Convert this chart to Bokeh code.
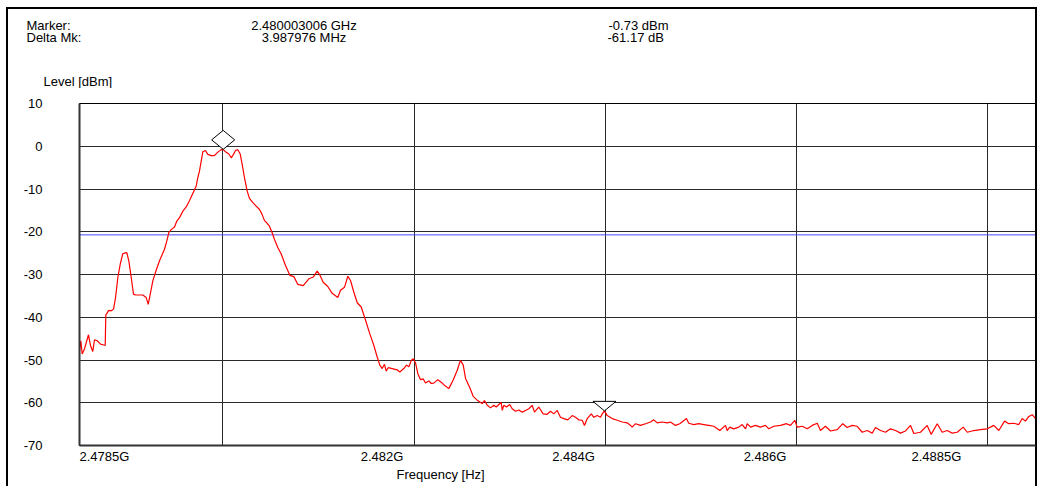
from bokeh.plotting import figure
from bokeh.layouts import column
from bokeh.models import FixedTicker, Span, Title
from bokeh.core.properties import value
from bokeh.embed import file_html
from bokeh.resources import INLINE

# ---------------- data ----------------
freq_mhz = [
    2478.500, 2478.514, 2478.528, 2478.552, 2478.594, 2478.615, 2478.639, 2478.657, 2478.685, 2478.720,
    2478.754, 2478.769, 2478.775, 2478.806, 2478.832, 2478.856, 2478.877, 2478.901, 2478.926, 2478.953,
    2478.995, 2479.016, 2479.041, 2479.065, 2479.086, 2479.162, 2479.198, 2479.219, 2479.240, 2479.267,
    2479.302, 2479.337, 2479.389, 2479.413, 2479.434, 2479.459, 2479.494, 2479.518, 2479.546, 2479.581,
    2479.616, 2479.651, 2479.696, 2479.721, 2479.737, 2479.755, 2479.773, 2479.790, 2479.818, 2479.842,
    2479.878, 2479.912, 2479.936, 2479.957, 2479.982, 2480.003, 2480.027, 2480.062, 2480.087, 2480.111,
    2480.132, 2480.156, 2480.181, 2480.202, 2480.226, 2480.254, 2480.278, 2480.313, 2480.348, 2480.383,
    2480.411, 2480.435, 2480.459, 2480.487, 2480.516, 2480.540, 2480.574, 2480.610, 2480.655, 2480.700,
    2480.742, 2480.783, 2480.840, 2480.899, 2480.945, 2480.986, 2481.014, 2481.049, 2481.097, 2481.143,
    2481.202, 2481.230, 2481.272, 2481.307, 2481.335, 2481.369, 2481.405, 2481.447, 2481.492, 2481.537,
    2481.579, 2481.614, 2481.641, 2481.666, 2481.690, 2481.708, 2481.729, 2481.771, 2481.823, 2481.850,
    2481.892, 2481.921, 2481.945, 2481.970, 2481.991, 2482.015, 2482.039, 2482.067, 2482.095, 2482.119,
    2482.154, 2482.179, 2482.206, 2482.248, 2482.294, 2482.328, 2482.363, 2482.409, 2482.451, 2482.485,
    2482.514, 2482.538, 2482.583, 2482.618, 2482.660, 2482.712, 2482.736, 2482.765, 2482.799, 2482.834,
    2482.859, 2482.886, 2482.911, 2482.922, 2482.938, 2482.967, 2483.001, 2483.026, 2483.061, 2483.095,
    2483.131, 2483.165, 2483.200, 2483.235, 2483.259, 2483.304, 2483.350, 2483.392, 2483.427, 2483.461,
    2483.497, 2483.531, 2483.566, 2483.608, 2483.654, 2483.688, 2483.723, 2483.758, 2483.782, 2483.811,
    2483.853, 2483.880, 2483.915, 2483.950, 2483.968, 2483.991, 2484.020, 2484.072, 2484.125, 2484.177,
    2484.229, 2484.264, 2484.281, 2484.316, 2484.368, 2484.421, 2484.473, 2484.507, 2484.543, 2484.595,
    2484.648, 2484.682, 2484.734, 2484.779, 2484.849, 2484.873, 2484.926, 2484.978, 2485.030, 2485.083,
    2485.135, 2485.198, 2485.257, 2485.275, 2485.302, 2485.344, 2485.396, 2485.432, 2485.467, 2485.484,
    2485.519, 2485.571, 2485.623, 2485.676, 2485.710, 2485.763, 2485.833, 2485.895, 2485.937, 2485.982,
    2486.007, 2486.060, 2486.112, 2486.164, 2486.217, 2486.251, 2486.303, 2486.356, 2486.426, 2486.484,
    2486.530, 2486.583, 2486.635, 2486.687, 2486.740, 2486.792, 2486.826, 2486.879, 2486.931, 2486.983,
    2487.036, 2487.088, 2487.140, 2487.193, 2487.227, 2487.297, 2487.367, 2487.409, 2487.472, 2487.524,
    2487.576, 2487.629, 2487.681, 2487.744, 2487.786, 2487.855, 2487.925, 2487.995, 2488.064, 2488.116,
    2488.176, 2488.221, 2488.273, 2488.325, 2488.361, 2488.395, 2488.430, 2488.466, 2488.500,
]

level_dbm = [
    -47.8, -45.5, -48.6, -47.4, -44.1, -46.6, -48.0, -45.3, -45.5, -46.3,
    -46.5, -46.6, -39.5, -38.4, -38.5, -38.1, -35.4, -30.7, -27.6, -25.1,
    -24.9, -26.8, -30.7, -34.6, -34.8, -34.8, -35.4, -37.0, -34.6, -31.5,
    -29.0, -26.8, -24.1, -22.2, -20.2, -19.5, -18.9, -17.5, -16.7, -15.2,
    -14.2, -12.7, -10.5, -9.3, -7.4, -5.8, -3.5, -1.3, -1.0, -1.9,
    -2.2, -2.2, -1.6, -1.2, -0.8, -0.73, -1.3, -1.8, -2.7, -1.9,
    -1.0, -0.8, -1.8, -4.3, -7.4, -10.5, -12.2, -13.2, -14.0, -14.8,
    -16.0, -17.4, -17.9, -18.7, -20.3, -21.8, -23.7, -25.2, -27.9, -30.2,
    -30.5, -32.3, -32.6, -31.0, -30.6, -29.2, -30.1, -31.8, -32.8, -34.4,
    -35.4, -33.7, -33.0, -30.4, -31.4, -34.1, -36.6, -37.6, -40.7, -43.9,
    -46.6, -49.3, -51.2, -52.0, -51.0, -52.6, -51.8, -52.0, -52.3, -52.8,
    -52.0, -51.2, -51.6, -50.1, -49.7, -50.7, -53.2, -54.6, -54.4, -55.4,
    -54.9, -55.5, -55.4, -54.6, -55.4, -56.1, -56.7, -54.7, -52.4, -50.1,
    -51.2, -54.3, -56.5, -58.5, -59.4, -60.2, -59.5, -60.6, -61.2, -60.6,
    -61.0, -60.4, -59.9, -61.8, -60.6, -61.0, -60.4, -61.4, -62.0, -61.7,
    -62.2, -61.8, -61.4, -60.6, -62.2, -61.0, -62.6, -62.7, -62.0, -62.6,
    -61.8, -63.4, -63.7, -64.0, -63.0, -63.4, -64.0, -64.1, -65.3, -63.7,
    -62.6, -63.4, -63.0, -63.4, -62.6, -61.9, -63.0, -63.7, -64.1, -64.5,
    -64.7, -65.3, -65.7, -64.9, -65.3, -64.9, -64.5, -64.0, -64.7, -64.5,
    -64.7, -64.5, -65.3, -64.9, -63.7, -64.8, -65.1, -64.9, -65.1, -65.3,
    -65.5, -66.5, -65.3, -66.5, -65.7, -66.1, -65.7, -65.1, -66.1, -64.9,
    -65.7, -65.3, -65.7, -65.3, -66.1, -65.5, -65.3, -64.9, -65.3, -64.1,
    -65.7, -65.5, -66.1, -65.3, -64.8, -66.5, -65.5, -66.6, -66.3, -64.9,
    -65.8, -65.3, -65.5, -66.9, -66.5, -67.1, -65.8, -66.5, -66.9, -66.1,
    -66.5, -67.1, -66.6, -65.3, -67.2, -66.9, -65.3, -67.4, -64.9, -66.9,
    -66.5, -67.1, -66.9, -65.7, -66.9, -66.5, -66.3, -66.1, -65.3, -66.5,
    -64.3, -64.9, -64.8, -65.1, -63.7, -64.3, -63.2, -62.8, -63.7,
]

marker_freq_ghz = 2.480003006
marker_level_dbm = -0.73
delta_freq_mhz = 3.987976
delta_level_db = -61.17
limit_offset_db = -20.0

x_start_mhz, x_stop_mhz = 2478.5, 2488.5
y_min, y_max = -70, 10
y_ticks = [-70, -60, -50, -40, -30, -20, -10, 0, 10]
x_grid_mhz = [2480, 2482, 2484, 2486, 2488]
x_tick_pos = [2478.76, 2481.664, 2483.667, 2485.670, 2487.464]
x_tick_labels = ["2.4785G", "2.482G", "2.484G", "2.486G", "2.4885G"]

header_left = ["Marker:", "Delta Mk:"]
header_mid = [f"{marker_freq_ghz:.9f} GHz", f"{delta_freq_mhz:.6f} MHz"]
header_right = [f"{marker_level_dbm:.2f} dBm", f"{delta_level_db:.2f} dB"]
y_title = "Level [dBm]"
x_title = "Frequency [Hz]"

# ---------------- layout ----------------
FONT = "Liberation Sans"
FS = "13px"
W = 1037
H_HEAD = 88
H_MAIN = 486 - H_HEAD
ML, MR, MT, MB = 79, 2, 15, 41
frame_w = W - ML - MR
frame_h = H_MAIN - MT - MB
px_per_mhz = frame_w / (x_stop_mhz - x_start_mhz)
px_per_db = frame_h / (y_max - y_min)

# ---------------- header (texts above the plot) ----------------
head = figure(width=W, height=H_HEAD, x_range=(0, W), y_range=(H_HEAD, 0), title=None,
              output_backend="svg", toolbar_location=None,
              x_axis_location=None, y_axis_location=None,
              min_border_left=0, min_border_right=0, min_border_top=0, min_border_bottom=0)
head.frame_align = False
head.grid.visible = False
head.outline_line_color = None
head.background_fill_color = None
head.border_fill_color = None
head.styles = {"box-shadow": "inset 0 7px 0 0 #fff, inset 6px 0 0 0 #fff, "
                             "inset 0 9px 0 0 #000, inset 8px 0 0 0 #000, inset -2px 0 0 0 #000"}

row_base = [25, 37]
txt_kw = dict(text_font=value(FONT), text_font_size=value(FS), text_color="black",
              text_baseline="alphabetic")
head.text(x=[26, 26], y=row_base, text=header_left, text_align="left", **txt_kw)
head.text(x=[303.5, 303.5], y=row_base, text=header_mid, text_align="center", **txt_kw)
head.text(x=[608, 607], y=row_base, text=header_right, text_align="left", **txt_kw)
head.text(x=[43], y=[81], text=[y_title], text_align="left", **txt_kw)

# ---------------- main plot ----------------
p = figure(width=W, height=H_MAIN, x_range=(x_start_mhz, x_stop_mhz), y_range=(y_min, y_max),
           title=None, output_backend="svg", toolbar_location=None,
           min_border_left=ML, min_border_right=MR, min_border_top=MT, min_border_bottom=MB)
p.frame_align = False
p.background_fill_color = "white"
p.border_fill_color = None
p.outline_line_color = "black"
p.outline_line_width = 1
p.styles = {"box-shadow": "inset 6px 0 0 0 #fff, inset 8px 0 0 0 #000, inset -2px 0 0 0 #000"}

p.xaxis.ticker = FixedTicker(ticks=x_tick_pos)
p.xaxis.major_label_overrides = {t: l for t, l in zip(x_tick_pos, x_tick_labels)}
p.yaxis.ticker = FixedTicker(ticks=y_ticks)
p.yaxis.major_label_overrides = {t: str(t) for t in y_ticks}
for ax in (p.xaxis[0], p.yaxis[0]):
    ax.major_tick_line_color = None
    ax.minor_tick_line_color = None
    ax.major_tick_out = 0
    ax.major_tick_in = 0
    ax.axis_line_color = "#333333"
    ax.axis_line_width = 2
    ax.major_label_text_font = FONT
    ax.major_label_text_font_size = FS
    ax.major_label_text_color = "black"
p.xaxis.major_label_standoff = 3
p.yaxis.major_label_standoff = 37

p.add_layout(Title(text=x_title, align="left", offset=317, standoff=-3,
                   text_font=FONT, text_font_size=FS, text_font_style="normal",
                   text_color="black"), "below")

p.xgrid.ticker = FixedTicker(ticks=x_grid_mhz)
p.ygrid.ticker = FixedTicker(ticks=y_ticks)
for g in (p.xgrid[0], p.ygrid[0]):
    g.grid_line_color = "#2a2a2a"
    g.grid_line_width = 1
    g.grid_line_alpha = 1.0

# 20 dB down reference line
p.add_layout(Span(location=marker_level_dbm + limit_offset_db, dimension="width",
                  line_color="#4a4aff", line_width=1, level="underlay"))

# trace
p.line(freq_mhz, level_dbm, line_color="#ff0000", line_width=1.2)

# markers (diamond above marker 1, inverted triangle above delta marker)
f1 = marker_freq_ghz * 1000.0
l1 = marker_level_dbm
f2 = f1 + delta_freq_mhz
l2 = l1 + delta_level_db
hw = 11.5 / px_per_mhz
dh = 9.5 / px_per_db
p.patch([f1, f1 + hw, f1, f1 - hw], [l1, l1 + dh, l1 + 2 * dh, l1 + dh],
        fill_color="white", line_color="black", line_width=1)
p.patch([f2, f2 + hw, f2 - hw], [l2, l2 + dh, l2 + dh],
        fill_color="white", line_color="black", line_width=1)

layout = column(head, p, spacing=0)
open("out.html", "w").write(file_html(layout, INLINE))
